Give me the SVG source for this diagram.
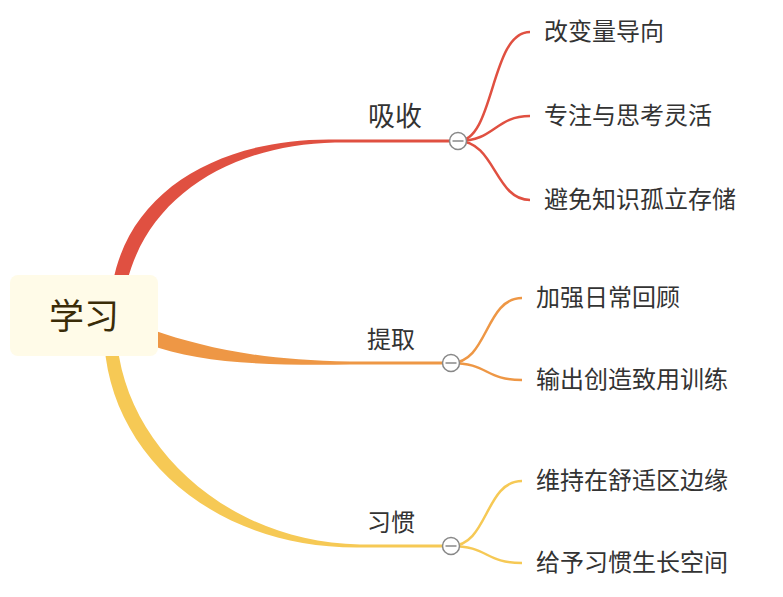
<svg xmlns="http://www.w3.org/2000/svg" width="783" height="597" viewBox="0 0 783 597">
<style>
text{font-family:"Noto Sans CJK SC","Noto Sans",sans-serif;fill:#333333}
.child{font-size:24px}
.br{font-size:24px}
.red{stroke:#E05041;fill:none}
.org{stroke:#EE9745;fill:none}
.yel{stroke:#F6C955;fill:none}
.sub{stroke-width:2.5}
.btn circle{fill:#ffffff;stroke:#888888;stroke-width:1.5}
.btn line{stroke:#888888;stroke-width:1.5}
</style>
<rect width="783" height="597" fill="#ffffff"/>
<g id="connectors">
  <path d="M113,282 C131,186 226,137.5 335,139.5 L450,139.5 L450,142.5 L335,142.5 C234,144.5 149,194 127,282 Z" fill="#E05041"/>
  <path d="M152.7,330 C202,347 260,360.5 350,361.5 L443,361.5 L443,364.5 L350,364.5 C260,365.5 198,363 147.3,344 Z" fill="#EE9745"/>
  <path d="M104.5,345 C112,455 214,549 360,547.5 L443,547.5 L443,544.5 L360,544.5 C226,542 128,446 117.5,345 Z" fill="#F6C955"/>
  <path class="red sub" d="M458,141 C495,141 490,32 530,32"/>
  <path class="red sub" d="M458,141 C495,141 495,116 530,116"/>
  <path class="red sub" d="M458,141 C495,141 495,200 530,200"/>
  <path class="org sub" d="M451,363 C488,363 485,298 522,298"/>
  <path class="org sub" d="M451,363 C488,363 485,380 522,380"/>
  <path class="yel sub" d="M451,546 C488,546 485,481 522,481"/>
  <path class="yel sub" d="M451,546 C488,546 485,563 522,563"/>
</g>
<g id="root">
  <rect x="10" y="275" width="148" height="81" rx="8" fill="#FFFBE8"/>
  <text x="84" y="329" text-anchor="middle" style="font-size:35px;fill:#3A2C08">学习</text>
</g>
<g id="b1">
  <text class="br" x="368" y="126" style="font-size:27px">吸收</text>
  <g class="btn"><circle cx="458" cy="141" r="8.5"/><line x1="452.5" y1="141" x2="463.5" y2="141"/></g>
</g>
<g id="b2">
  <text class="br" x="367" y="348">提取</text>
  <g class="btn"><circle cx="451" cy="363" r="8.5"/><line x1="445.5" y1="363" x2="456.5" y2="363"/></g>
</g>
<g id="b3">
  <text class="br" x="367" y="531">习惯</text>
  <g class="btn"><circle cx="451" cy="546" r="8.5"/><line x1="445.5" y1="546" x2="456.5" y2="546"/></g>
</g>
<g id="c1"><text class="child" x="544" y="40">改变量导向</text></g>
<g id="c2"><text class="child" x="544" y="124">专注与思考灵活</text></g>
<g id="c3"><text class="child" x="544" y="208">避免知识孤立存储</text></g>
<g id="c4"><text class="child" x="536" y="306">加强日常回顾</text></g>
<g id="c5"><text class="child" x="536" y="388">输出创造致用训练</text></g>
<g id="c6"><text class="child" x="536" y="489">维持在舒适区边缘</text></g>
<g id="c7"><text class="child" x="536" y="571">给予习惯生长空间</text></g>
</svg>
